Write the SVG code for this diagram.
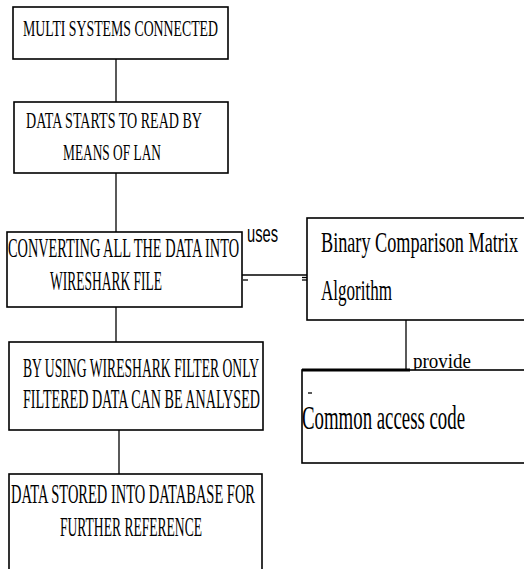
<svg xmlns="http://www.w3.org/2000/svg" width="524" height="569" viewBox="0 0 524 569">
<style>
.box{fill:#fff;stroke:#000;stroke-width:1.6}
.ln{stroke:#000;stroke-width:1.3;fill:none}
text{font-family:'Liberation Serif','Times New Roman',serif;fill:#000}
</style>
<rect width="524" height="569" fill="#fff"/>
<g id="connectors">
<line class="ln" x1="116" y1="59" x2="116" y2="102"/>
<line class="ln" x1="116" y1="173" x2="116" y2="232"/>
<line class="ln" x1="116" y1="307" x2="116" y2="342"/>
<line class="ln" x1="119" y1="430" x2="119" y2="474"/>
<line class="ln" x1="242" y1="275" x2="307" y2="275"/>
<line class="ln" x1="243" y1="280" x2="248" y2="280"/>
<line class="ln" x1="302" y1="277.5" x2="307" y2="277.5"/>
<line class="ln" x1="302" y1="280" x2="307" y2="280"/>
<line class="ln" x1="406" y1="320" x2="406" y2="369"/>
<text x="247" y="242" font-size="24" textLength="31" lengthAdjust="spacingAndGlyphs" style="font-family:'Liberation Sans',Arial,sans-serif">uses</text>
<text x="413" y="368" font-size="21" textLength="58" lengthAdjust="spacingAndGlyphs">provide</text>
</g>
<g id="n1">
<rect class="box" x="13" y="7" width="215" height="52"/>
<text x="23" y="36" font-size="24" textLength="195" lengthAdjust="spacingAndGlyphs">MULTI SYSTEMS CONNECTED</text>
</g>
<g id="n2">
<rect class="box" x="14" y="102" width="214" height="71"/>
<text x="26" y="128" font-size="23.5" textLength="176" lengthAdjust="spacingAndGlyphs">DATA STARTS TO READ BY</text>
<text x="63" y="160" font-size="23.5" textLength="98" lengthAdjust="spacingAndGlyphs">MEANS OF LAN</text>
</g>
<g id="n3">
<rect class="box" x="7" y="232" width="235" height="75"/>
<text x="8" y="257" font-size="27" textLength="231" lengthAdjust="spacingAndGlyphs">CONVERTING ALL THE DATA INTO</text>
<text x="50" y="290" font-size="27" textLength="112" lengthAdjust="spacingAndGlyphs">WIRESHARK FILE</text>
</g>
<g id="n4">
<rect class="box" x="9" y="342" width="254" height="88"/>
<text x="23" y="377" font-size="28" textLength="236" lengthAdjust="spacingAndGlyphs">BY USING WIRESHARK FILTER ONLY</text>
<text x="23" y="408" font-size="28" textLength="237" lengthAdjust="spacingAndGlyphs">FILTERED DATA CAN BE ANALYSED</text>
</g>
<g id="n5">
<rect class="box" x="9" y="474" width="253" height="110"/>
<text x="11" y="503" font-size="28" textLength="244" lengthAdjust="spacingAndGlyphs">DATA STORED INTO DATABASE FOR</text>
<text x="60" y="536" font-size="28" textLength="142" lengthAdjust="spacingAndGlyphs">FURTHER REFERENCE</text>
</g>
<g id="n6">
<rect class="box" x="307" y="218" width="230" height="102"/>
<text x="321" y="252" font-size="30" textLength="197" lengthAdjust="spacingAndGlyphs">Binary Comparison Matrix</text>
<text x="321" y="300" font-size="30" textLength="71" lengthAdjust="spacingAndGlyphs">Algorithm</text>
</g>
<g id="n7">
<rect class="box" x="302" y="370" width="235" height="93"/>
<line x1="302" y1="370" x2="410" y2="370" stroke="#000" stroke-width="3.2"/>
<line class="ln" x1="308" y1="393" x2="312" y2="393"/>
<text x="302" y="429" font-size="33" textLength="163" lengthAdjust="spacingAndGlyphs">Common access code</text>
</g>
</svg>
